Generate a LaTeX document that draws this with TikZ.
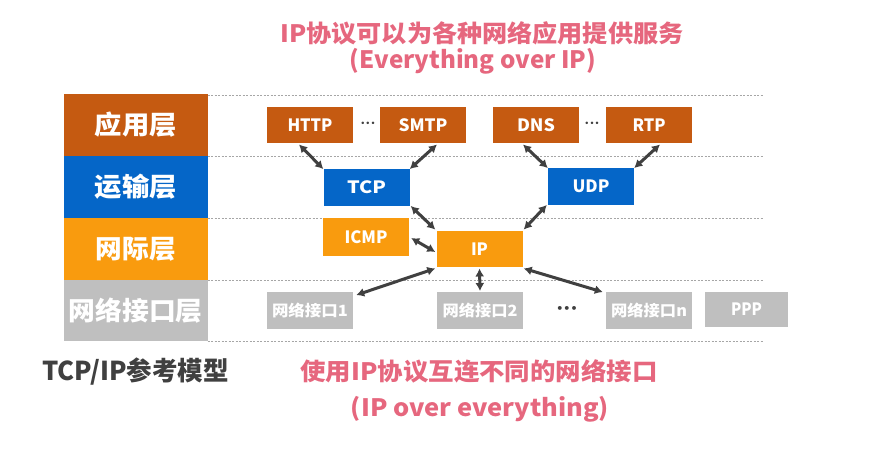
\documentclass[tikz,border=0pt]{standalone}
\usepackage{fontspec}
\usepackage{graphicx}
\usetikzlibrary{arrows.meta}
\setmainfont{Noto Sans CJK SC}
\newfontfamily\dejavu{DejaVu Sans}
\definecolor{appc}{HTML}{C55A11}
\definecolor{trc}{HTML}{0566C8}
\definecolor{netc}{HTML}{F99B0E}
\definecolor{linkc}{HTML}{BFBFBF}
\definecolor{pinkc}{HTML}{E6677E}
\definecolor{darkc}{HTML}{404040}
\definecolor{dotc}{HTML}{A6A6A6}
\newcommand\tw[2]{\resizebox{#1}{\height}{#2}}
\tikzset{
  lay/.style={rectangle,inner sep=0pt,minimum width=143.5pt,text=white,font=\bfseries\fontsize{26}{26}\selectfont},
  box/.style={rectangle,inner sep=0pt,minimum width=86pt,minimum height=36.5pt,text=white,font=\bfseries\fontsize{17}{17}\selectfont},
  nibox/.style={box,fill=linkc,font=\bfseries\fontsize{15.5}{15.5}\selectfont},
  arr/.style={draw=darkc,line width=3pt,{Latex[length=8pt,width=9pt]}-{Latex[length=8pt,width=9pt]}},
  sep/.style={draw=dotc,line width=1pt,dash pattern=on 2pt off 1.5pt},
  pink/.style={text=pinkc,inner sep=0pt,font=\bfseries\fontsize{24}{24}\selectfont},
  dots/.style={text=darkc,inner sep=0pt}
}
\begin{document}
\begin{tikzpicture}[x=1pt,y=-1pt]
\fill[white] (0,0) rectangle (873,464);
\useasboundingbox (0,0) rectangle (873,464);

% separators
\foreach \yy in {95.5,156,218,280,341.5} \draw[sep] (207.5,\yy) -- (763,\yy);

% layer column
\node[lay,fill=appc,minimum height=62pt] (app) at (135.75,125) {\tw{82pt}{应用层}};
\node[lay,fill=trc,minimum height=62pt] (tr) at (135.75,187) {\tw{82pt}{运输层}};
\node[lay,fill=netc,minimum height=62pt] (net) at (135.75,249) {\tw{80pt}{网际层}};
\node[lay,fill=linkc,minimum height=61pt] (link) at (135.75,310.5) {\tw{134pt}{网络接口层}};

% application
\node[box,fill=appc] (http) at (310,125) {\tw{45pt}{HTTP}};
\node[box,fill=appc] (smtp) at (423,125) {\tw{49pt}{SMTP}};
\node[box,fill=appc] (dns) at (536,125) {\tw{38pt}{DNS}};
\node[box,fill=appc] (rtp) at (649,125) {\tw{33pt}{RTP}};
\node[dots,font=\dejavu\fontsize{8.5}{8.5}\selectfont] (d1) at (368,124) {•••};
\node[dots,font=\dejavu\fontsize{8.5}{8.5}\selectfont] (d2) at (592,124) {•••};

% transport
\node[box,fill=trc] (tcp) at (366.5,187.5) {\tw{39pt}{TCP}};
\node[box,fill=trc] (udp) at (591,186.5) {\tw{37pt}{UDP}};

% internet
\node[box,fill=netc,minimum height=37.5pt] (icmp) at (366,237) {\tw{43pt}{ICMP}};
\node[box,fill=netc] (ip) at (479.5,249) {\tw{17pt}{IP}};

% link
\node[nibox] (ni1) at (310,310.5) {\tw{76pt}{网络接口1}};
\node[nibox] (ni2) at (480,310.5) {\tw{75pt}{网络接口2}};
\node[nibox] (nin) at (649,310.5) {\tw{76pt}{网络接口n}};
\node[nibox,minimum width=83pt,minimum height=35pt,font=\bfseries\fontsize{17}{17}\selectfont] (ppp) at (746.5,309.5) {\tw{31pt}{PPP}};
\node[dots,font=\dejavu\bfseries\fontsize{11}{11}\selectfont] (d3) at (567,309) {•••};

% arrows
\draw[arr] ([xshift=-11pt,yshift=-1pt]http.south) -- (tcp.north west);
\draw[arr] ([xshift=14pt,yshift=-1pt]smtp.south) -- (tcp.north east);
\draw[arr] ([xshift=-13pt,yshift=-1pt]dns.south) -- (udp.north west);
\draw[arr] ([xshift=11pt,yshift=-1pt]rtp.south) -- (udp.north east);
\draw[arr] ([shift={(1pt,0pt)}]tcp.south east) -- ([shift={(-1pt,1pt)}]ip.north west);
\draw[arr] ([shift={(-1pt,0pt)}]udp.south west) -- ([shift={(1pt,1pt)}]ip.north east);
\draw[arr] ([shift={(2pt,-1pt)}]icmp.east) -- ([shift={(-1pt,-3pt)}]ip.west);
\draw[arr] ([shift={(-1pt,-1pt)}]ip.south west) -- ([shift={(3pt,-3pt)}]ni1.north east);
\draw[arr] ([yshift=-1pt]ip.south) -- ([yshift=1pt]ni2.north);
\draw[arr] ([shift={(1pt,-1pt)}]ip.south east) -- ([shift={(-3pt,0pt)}]nin.north west);

% texts
\node[pink] (t1) at (482,33) {\tw{403pt}{IP协议可以为各种网络应用提供服务}};
\node[pink] (t2) at (473,61) {\tw{246pt}{(Everything over IP)}};
\node[pink] (b1) at (479,371) {\tw{357pt}{使用IP协议互连不同的网络接口}};
\node[pink] (b2) at (480,409) {\tw{258pt}{(IP over everything)}};
\node[text=darkc,inner sep=0pt,font=\bfseries\fontsize{26}{26}\selectfont] (model) at (135.5,372) {\tw{187pt}{TCP/IP参考模型}};
\end{tikzpicture}
\end{document}
